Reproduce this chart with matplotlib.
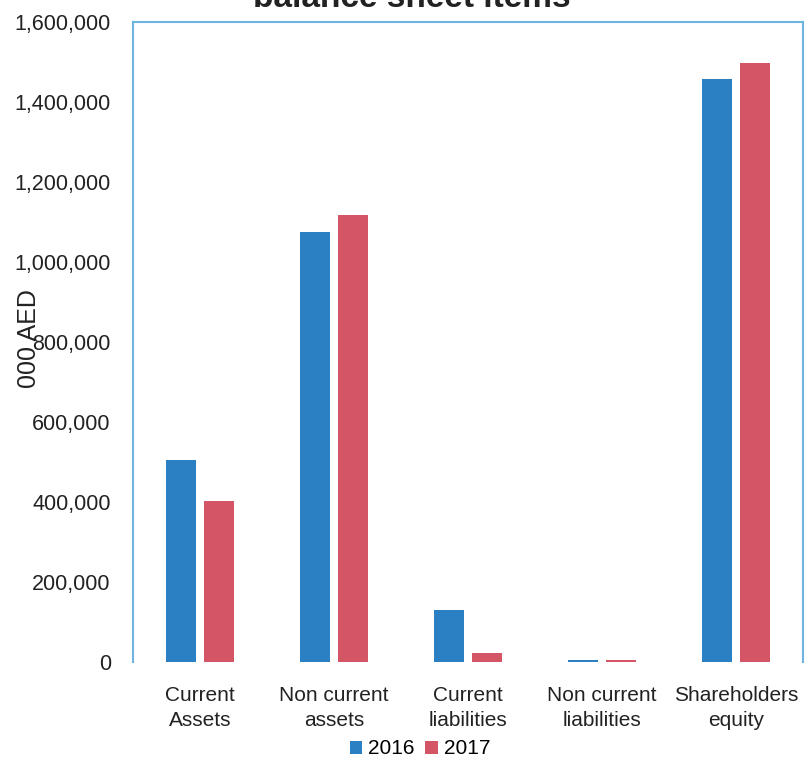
import numpy as np
import matplotlib
matplotlib.use("Agg")
from matplotlib import pyplot as plt
from matplotlib.ticker import FuncFormatter

categories = ["Current\nAssets", "Non current\nassets", "Current\nliabilities",
              "Non current\nliabilities", "Shareholders\nequity"]
y2016 = [505000, 1076000, 130000, 5000, 1457000]
y2017 = [403000, 1117000, 22000, 5000, 1498000]

plt.rcParams['font.family'] = ['Liberation Sans', 'DejaVu Sans']

fig = plt.figure(figsize=(8.08, 7.62), dpi=100)
ax = fig.add_axes([133/808, 1 - 662/762, 670/808, 640/762])

x = np.arange(len(categories))
w = 0.224
off = 0.142
ax.bar(x - off, y2016, w, color='#2a80c2', label='2016')
ax.bar(x + off, y2017, w, color='#d45566', label='2017')

ax.set_xlim(-0.5, 4.5)
ax.set_ylim(0, 1600000)
ax.set_yticks(np.arange(0, 1600001, 200000))
ax.yaxis.set_major_formatter(FuncFormatter(lambda v, p: f"{int(v):,}"))
ax.set_xticks(x)
ax.set_xticklabels(categories, fontsize=15, color='#222222', linespacing=1.45)
ax.tick_params(axis='y', labelsize=15.5, length=0, pad=16, labelcolor='#222222')
ax.tick_params(axis='x', length=0, pad=17)

for s in ['left', 'top', 'right']:
    ax.spines[s].set_color('#6fb3e0')
    ax.spines[s].set_linewidth(1.5)
ax.spines['bottom'].set_visible(False)

# axis title sits over the tick labels
ax.set_ylabel('000 AED', fontsize=18, color='#222222')
ax.yaxis.set_label_coords(-0.138, 0.505)

fig.text(0.51, 1 - 7/762, 'balance sheet items', ha='center', va='baseline',
         fontsize=24, fontweight='bold', color='#222222')

fig.legend(loc='center', bbox_to_anchor=(0.52, 1 - 749/762),
           ncol=2, frameon=False, fontsize=15, handlelength=0.6,
           handleheight=0.6, handletextpad=0.3, columnspacing=0.5)

fig.savefig('out.png', dpi=100)
